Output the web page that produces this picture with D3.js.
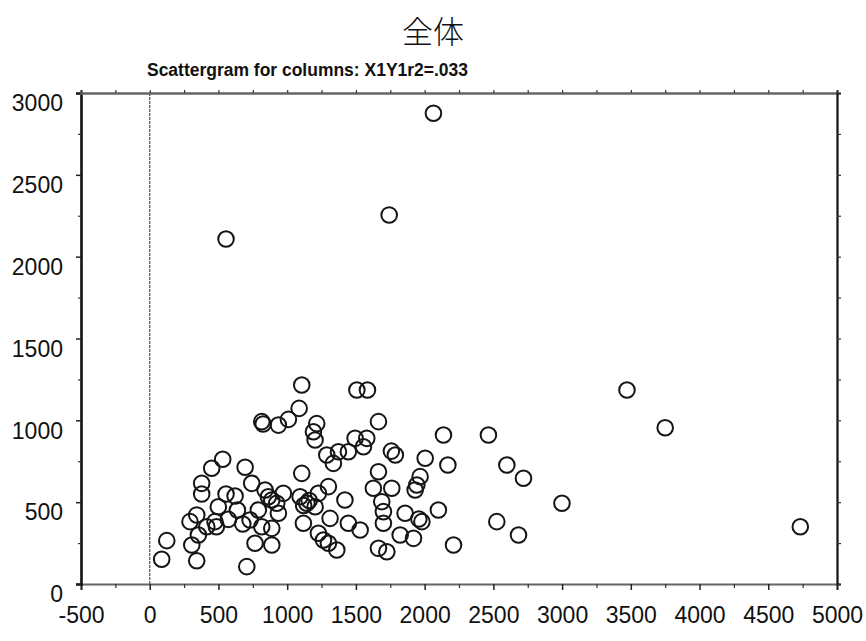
<!DOCTYPE html>
<html>
<head>
<meta charset="utf-8">
<script src="https://cdn.jsdelivr.net/npm/d3@7"></script>
<style>
  html, body { margin: 0; padding: 0; background: #fff; }
  svg { display: block; }
</style>
</head>
<body>
<svg id="chart" width="866" height="641"></svg>
<script>
// Chart text
const chartTitle = "全体";
const chartSubtitle = "Scattergram for columns: X1Y1r2=.033";

// Axis ticks
const xTickValues = [-500, 0, 500, 1000, 1500, 2000, 2500, 3000, 3500, 4000, 4500, 5000];
const yTickValues = [0, 500, 1000, 1500, 2000, 2500, 3000];

// Observations: X1 (horizontal) and Y1 (vertical)
const xValues = [
  87, 124, 342, 306, 293, 342, 354, 378, 378, 451,
  531, 415, 475, 485, 499, 555, 621, 572, 638, 677,
  694, 706, 1106, 1087, 815, 825, 936, 1009, 1215, 1191,
  1203, 1288, 1336, 1373, 1106, 742, 839, 888, 863, 924,
  972, 790, 730, 815, 888, 766, 888, 936, 1094, 1143,
  1120, 1160, 1300, 1227, 1203, 1118, 1227, 1264, 1300, 1361,
  1312, 1420, 1507, 1584, 1664, 1494, 1579, 1555, 1445, 1758,
  1787, 2004, 2137, 1664, 1627, 1761, 1688, 1700, 1700, 1967,
  1943, 1931, 1858, 1980, 1958, 2100, 1445, 1531, 1822, 1919,
  1664, 1725, 2464, 2169, 2598, 2719, 2525, 2683, 2210, 3472,
  2999, 3750, 4733, 2064, 1742, 555
];
const yValues = [
  151, 265, 142, 238, 381, 422, 299, 615, 550, 707,
  762, 350, 381, 350, 472, 550, 538, 395, 452, 367,
  713, 106, 1216, 1073, 992, 978, 971, 1006, 980, 930,
  880, 788, 737, 808, 676, 615, 574, 513, 533, 493,
  554, 452, 391, 350, 340, 249, 238, 432, 533, 493,
  480, 510, 595, 554, 472, 371, 310, 269, 249, 208,
  401, 513, 1185, 1185, 992, 890, 890, 839, 808, 812,
  788, 768, 910, 686, 585, 585, 503, 442, 371, 656,
  605, 574, 432, 381, 397, 452, 371, 330, 299, 279,
  218, 197, 910, 727, 727, 646, 381, 299, 238, 1185,
  493, 955, 350, 2876, 2255, 2108
];

const points = xValues.map((x, i) => ({ x, y: yValues[i] }));

const svg = d3.select("#chart");
const plot = { left: 81, right: 837, top: 93, bottom: 584 };

const x = d3.scaleLinear().domain([-500, 5000]).range([plot.left, plot.right]);
const y = d3.scaleLinear().domain([0, 3000]).range([plot.bottom, plot.top]);

const minorX = d3.range(-500, 5001, 250);
const minorY = d3.range(0, 3001, 250);
const plainNumber = d => String(d);

// Titles
svg.append("text")
  .attr("x", 433).attr("y", 43)
  .attr("text-anchor", "middle")
  .style("font-family", "'Noto Sans CJK JP', 'Noto Sans CJK SC', sans-serif")
  .style("font-size", "31px")
  .style("font-weight", 300)
  .attr("fill", "#111")
  .text(chartTitle);

svg.append("text")
  .attr("x", 147).attr("y", 76)
  .attr("textLength", 321)
  .attr("lengthAdjust", "spacingAndGlyphs")
  .style("font-family", "'Liberation Sans', Arial, sans-serif")
  .style("font-size", "18px")
  .style("font-weight", "bold")
  .attr("fill", "#111")
  .text(chartSubtitle);

// Reference line at x = 0
svg.append("line")
  .attr("x1", x(0)).attr("x2", x(0))
  .attr("y1", plot.top).attr("y2", plot.bottom)
  .attr("stroke", "#666").attr("stroke-width", 1.4)
  .attr("stroke-dasharray", "3,1");

// Axes
const labelFont = g => g.selectAll("text")
  .style("font-family", "'Liberation Sans', Arial, sans-serif")
  .style("font-size", "23px")
  .attr("fill", "#111");

const bottomAxis = svg.append("g")
  .attr("transform", `translate(0,${plot.bottom})`)
  .call(d3.axisBottom(x).tickValues(xTickValues).tickSize(6).tickPadding(17).tickFormat(plainNumber))
  .call(labelFont);
bottomAxis.select(".domain").attr("stroke", "#666").attr("stroke-width", 2.2);
bottomAxis.selectAll(".tick line").attr("stroke", "#222").attr("stroke-width", 1.5);

svg.append("g")
  .attr("transform", `translate(0,${plot.bottom})`)
  .call(d3.axisBottom(x).tickValues(minorX.filter(v => v % 500 !== 0)).tickSize(4).tickFormat(""))
  .call(g => g.select(".domain").remove())
  .call(g => g.selectAll(".tick line").attr("stroke", "#333").attr("stroke-width", 1.2));

const leftAxis = svg.append("g")
  .attr("transform", `translate(${plot.left},0)`)
  .call(d3.axisLeft(y).tickValues(yTickValues).tickSize(5).tickPadding(13).tickFormat(plainNumber))
  .call(labelFont);
leftAxis.select(".domain").attr("stroke", "#111").attr("stroke-width", 2.6);
leftAxis.selectAll(".tick line").attr("stroke", "#222").attr("stroke-width", 1.5);
leftAxis.selectAll("text").attr("dy", "0.77em");

svg.append("g")
  .attr("transform", `translate(${plot.left},0)`)
  .call(d3.axisLeft(y).tickValues(minorY.filter(v => v % 500 !== 0)).tickSize(3).tickFormat(""))
  .call(g => g.select(".domain").remove())
  .call(g => g.selectAll(".tick line").attr("stroke", "#333").attr("stroke-width", 1.2));

// Frame: top and right axes without labels
const topAxis = svg.append("g")
  .attr("transform", `translate(0,${plot.top})`)
  .call(d3.axisTop(x).tickValues(minorX).tickSize(3).tickFormat(""));
topAxis.select(".domain").attr("stroke", "#666").attr("stroke-width", 2.4);
topAxis.selectAll(".tick line").attr("stroke", "#333").attr("stroke-width", 1.2);

const rightAxis = svg.append("g")
  .attr("transform", `translate(${plot.right},0)`)
  .call(d3.axisRight(y).tickValues(minorY).tickSize(4).tickFormat(""));
rightAxis.select(".domain").attr("stroke", "#111").attr("stroke-width", 2.2);
rightAxis.selectAll(".tick line").attr("stroke", "#333").attr("stroke-width", 1.2);

// Points
svg.append("g")
  .selectAll("circle")
  .data(points)
  .join("circle")
  .attr("cx", d => x(d.x))
  .attr("cy", d => y(d.y))
  .attr("r", 7.8)
  .attr("fill", "none")
  .attr("stroke", "#151515")
  .attr("stroke-width", 2);
</script>
</body>
</html>
